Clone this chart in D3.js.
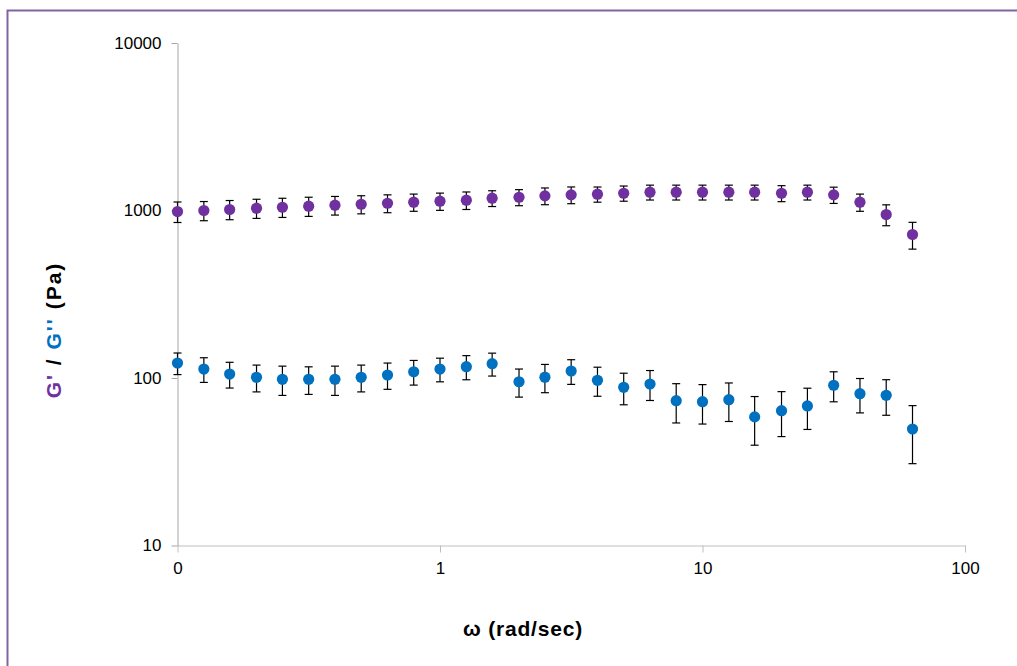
<!DOCTYPE html>
<html>
<head>
<meta charset="utf-8">
<script src="https://cdn.jsdelivr.net/npm/d3@7"></script>
<style>
  html, body { margin: 0; padding: 0; background: #fff; }
  svg { display: block; }
  text { font-family: "Liberation Sans", Arial, sans-serif; }
</style>
</head>
<body>
<svg id="chart" width="1017" height="666"></svg>
<script>
// Angular frequency (rad/sec)
const omega = [0.1, 0.126, 0.158, 0.2, 0.251, 0.316, 0.398, 0.501, 0.631, 0.794,
               1, 1.26, 1.58, 2, 2.51, 3.16, 3.98, 5.01, 6.31, 7.94,
               10, 12.6, 15.8, 20, 25.1, 31.6, 39.8, 50.1, 63.1];
// Storage modulus G' (Pa) and its error
const gPrime = [986, 1000, 1014, 1032, 1046, 1061, 1076, 1090, 1105, 1121,
                1136, 1152, 1184, 1200, 1223, 1240, 1251, 1268, 1286, 1286,
                1286, 1286, 1286, 1268, 1286, 1240, 1121, 946, 719];
const gPrimeErr = [138, 131, 133, 135, 137, 139, 137, 135, 135, 132,
                   134, 138, 128, 132, 140, 142, 130, 132, 131, 131,
                   131, 131, 131, 139, 131, 138, 132, 135, 131];
// Loss modulus G'' (Pa) and its error
const gDouble = [122.9, 113.1, 105.6, 101, 98.2, 98.2, 98.2, 101, 104.2, 109,
                 113.1, 116.8, 121.7, 95, 101.1, 110.1, 96.9, 88, 92.1, 73.2,
                 72.2, 74.2, 58.6, 63.8, 68.1, 90.5, 80.6, 78.8, 49.6];
const gDoubleErr = [18.1, 19, 18.5, 18.4, 19.5, 18.4, 19.5, 18.4, 18.6, 18.3,
                    18.2, 19.2, 19, 18.1, 19.4, 18.5, 19.1, 18.8, 18.7, 19.3,
                    19.1, 19.2, 18.9, 19.1, 18.8, 18.4, 18.7, 18.9, 18.8];
// Axis ticks
const xTicks = [0.1, 1, 10, 100];
const xTickLabels = ["0", "1", "10", "100"];
const yTicks = [10, 100, 1000, 10000];
const yTickLabels = ["10", "100", "1000", "10000"];

const svg = d3.select("#chart");

// outer frame
svg.append("rect")
  .attr("x", 7.5).attr("y", 10.5)
  .attr("width", 1030).attr("height", 700)
  .attr("fill", "none")
  .attr("stroke", "#8064A2").attr("stroke-width", 2);

const x = d3.scaleLog().domain([0.1, 100]).range([177.5, 965]);
const y = d3.scaleLog().domain([10, 10000]).range([545.5, 43]);

// x axis
const xAxis = d3.axisBottom(x).tickValues(xTicks)
  .tickFormat((d, i) => xTickLabels[i]).tickSizeInner(7).tickSizeOuter(0).tickPadding(9);
const gx = svg.append("g").attr("transform", "translate(0,545.5)").call(xAxis);
gx.select(".domain").attr("stroke", "#BFBFBF");
gx.selectAll(".tick line").attr("stroke", "#BFBFBF");
gx.selectAll(".tick text").attr("font-size", 17).attr("fill", "#000")
  .attr("font-family", "'Liberation Sans', Arial, sans-serif");

// y axis
const yAxis = d3.axisLeft(y).tickValues(yTicks)
  .tickFormat((d, i) => yTickLabels[i]).tickSizeInner(6).tickSizeOuter(0).tickPadding(10);
const gy = svg.append("g").attr("transform", "translate(177.5,0)").call(yAxis);
gy.select(".domain").attr("stroke", "#A6A6A6");
gy.selectAll(".tick line").attr("stroke", "#A6A6A6");
gy.selectAll(".tick text").attr("font-size", 17).attr("fill", "#000")
  .attr("font-family", "'Liberation Sans', Arial, sans-serif");

// series
function drawSeries(vals, errs, color) {
  const g = svg.append("g");
  const cap = 4;
  omega.forEach((w, i) => {
    const cx = x(w);
    const yTop = y(vals[i] + errs[i]);
    const yBot = y(vals[i] - errs[i]);
    g.append("line").attr("x1", cx).attr("x2", cx).attr("y1", yTop).attr("y2", yBot)
      .attr("stroke", "#000").attr("stroke-width", 1.2);
    g.append("line").attr("x1", cx - cap).attr("x2", cx + cap).attr("y1", yTop).attr("y2", yTop)
      .attr("stroke", "#000").attr("stroke-width", 1.2);
    g.append("line").attr("x1", cx - cap).attr("x2", cx + cap).attr("y1", yBot).attr("y2", yBot)
      .attr("stroke", "#000").attr("stroke-width", 1.2);
  });
  g.selectAll("circle").data(vals).enter().append("circle")
    .attr("cx", (d, i) => x(omega[i]))
    .attr("cy", d => y(d))
    .attr("r", 5.6)
    .attr("fill", color);
}
drawSeries(gPrime, gPrimeErr, "#7030A0");
drawSeries(gDouble, gDoubleErr, "#0070C0");

// x title
svg.append("text")
  .attr("x", 523).attr("y", 636)
  .attr("text-anchor", "middle")
  .attr("font-size", 21).attr("font-weight", "bold")
  .attr("letter-spacing", 0.8)
  .text("ω (rad/sec)");

// y title
const yt = svg.append("text")
  .attr("transform", "translate(61,330) rotate(-90)")
  .attr("text-anchor", "middle")
  .attr("font-size", 21).attr("font-weight", "bold")
  .attr("letter-spacing", 2);
yt.append("tspan").attr("fill", "#7030A0").text("G'");
yt.append("tspan").attr("fill", "#000").text(" / ");
yt.append("tspan").attr("fill", "#0070C0").text("G''");
yt.append("tspan").attr("fill", "#000").text(" (Pa)");
</script>
</body>
</html>
